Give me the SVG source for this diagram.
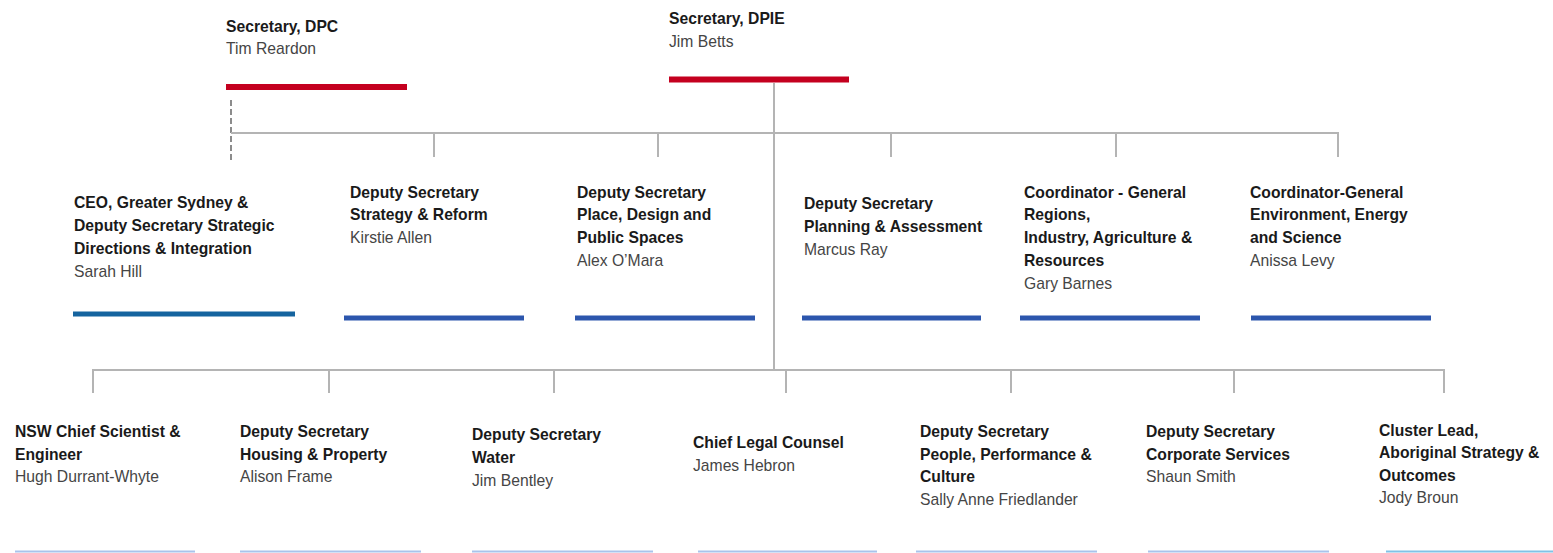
<svg xmlns="http://www.w3.org/2000/svg" width="1553" height="553" viewBox="0 0 1553 553">
<style>
text{font-family:"Liberation Sans",Arial,sans-serif;font-size:15.7px}
.t{font-weight:bold;fill:#1a1a1a}
.n{fill:#454545}
.conn{fill:none;stroke:#b4b4b4;stroke-width:2}
.dash{fill:none;stroke:#8c8c8c;stroke-width:2;stroke-dasharray:6 3}
.red{stroke:#c4001f;stroke-width:6}
.blue{stroke:#2c56ad;stroke-width:5}
.teal{stroke:#15649f;stroke-width:5}
.lb{stroke:#a9c3eb;stroke-width:2}
.lc{stroke:#80c2e6;stroke-width:2}
</style>
<rect width="1553" height="553" fill="#fff"/>
<g id="connectors">
<path class="dash" d="M231,100 V163"/>
<path class="conn" d="M231,133 H1338 V157"/>
<path class="conn" d="M434,133 V157 M658,133 V157 M891,133 V157 M1116,133 V157"/>
<path class="conn" d="M774,83 V370"/>
<path class="conn" d="M93,393 V370 H1444 V393"/>
<path class="conn" d="M329,370 V393 M554,370 V393 M786,370 V393 M1011,370 V393 M1234,370 V393"/>
</g>
<g id="sec-dpc">
<text class="t" x="226" y="32">Secretary, DPC</text>
<text class="n" x="226" y="54">Tim Reardon</text>
<line class="red" x1="226" y1="87" x2="407" y2="87"/>
</g>
<g id="sec-dpie">
<text class="t" x="669" y="24">Secretary, DPIE</text>
<text class="n" x="669" y="47">Jim Betts</text>
<line class="red" x1="669" y1="79.5" x2="849" y2="79.5"/>
</g>
<g id="ceo-sydney">
<text class="t" x="74" y="208">CEO, Greater Sydney &amp;</text>
<text class="t" x="74" y="231">Deputy Secretary Strategic</text>
<text class="t" x="74" y="254">Directions &amp; Integration</text>
<text class="n" x="74" y="277">Sarah Hill</text>
<line class="teal" x1="73" y1="314" x2="295" y2="314"/>
</g>
<g id="strategy-reform">
<text class="t" x="350" y="197.5">Deputy Secretary</text>
<text class="t" x="350" y="220">Strategy &amp; Reform</text>
<text class="n" x="350" y="243">Kirstie Allen</text>
<line class="blue" x1="344" y1="318" x2="524" y2="318"/>
</g>
<g id="place-design">
<text class="t" x="577" y="197.5">Deputy Secretary</text>
<text class="t" x="577" y="220">Place, Design and</text>
<text class="t" x="577" y="243">Public Spaces</text>
<text class="n" x="577" y="266">Alex O’Mara</text>
<line class="blue" x1="575" y1="318" x2="755" y2="318"/>
</g>
<g id="planning">
<text class="t" x="804" y="209">Deputy Secretary</text>
<text class="t" x="804" y="232">Planning &amp; Assessment</text>
<text class="n" x="804" y="254.5">Marcus Ray</text>
<line class="blue" x1="802" y1="318" x2="981" y2="318"/>
</g>
<g id="regions">
<text class="t" x="1024" y="197.5">Coordinator - General</text>
<text class="t" x="1024" y="220">Regions,</text>
<text class="t" x="1024" y="243">Industry, Agriculture &amp;</text>
<text class="t" x="1024" y="266">Resources</text>
<text class="n" x="1024" y="288.5">Gary Barnes</text>
<line class="blue" x1="1020" y1="318" x2="1200" y2="318"/>
</g>
<g id="environment">
<text class="t" x="1250" y="197.5">Coordinator-General</text>
<text class="t" x="1250" y="220">Environment, Energy</text>
<text class="t" x="1250" y="243">and Science</text>
<text class="n" x="1250" y="266">Anissa Levy</text>
<line class="blue" x1="1251" y1="318" x2="1431" y2="318"/>
</g>
<g id="chief-scientist">
<text class="t" x="15" y="437">NSW Chief Scientist &amp;</text>
<text class="t" x="15" y="459.5">Engineer</text>
<text class="n" x="15" y="482">Hugh Durrant-Whyte</text>
<line class="lb" x1="15" y1="551.5" x2="195" y2="551.5"/>
</g>
<g id="housing">
<text class="t" x="240" y="437">Deputy Secretary</text>
<text class="t" x="240" y="459.5">Housing &amp; Property</text>
<text class="n" x="240" y="482">Alison Frame</text>
<line class="lb" x1="240" y1="551.5" x2="421" y2="551.5"/>
</g>
<g id="water">
<text class="t" x="472" y="440">Deputy Secretary</text>
<text class="t" x="472" y="463">Water</text>
<text class="n" x="472" y="485.5">Jim Bentley</text>
<line class="lb" x1="472" y1="551.5" x2="653" y2="551.5"/>
</g>
<g id="legal">
<text class="t" x="693" y="448">Chief Legal Counsel</text>
<text class="n" x="693" y="471">James Hebron</text>
<line class="lb" x1="698" y1="551.5" x2="877" y2="551.5"/>
</g>
<g id="people">
<text class="t" x="920" y="437">Deputy Secretary</text>
<text class="t" x="920" y="459.5">People, Performance &amp;</text>
<text class="t" x="920" y="482">Culture</text>
<text class="n" x="920" y="504.5">Sally Anne Friedlander</text>
<line class="lb" x1="916" y1="551.5" x2="1097" y2="551.5"/>
</g>
<g id="corporate">
<text class="t" x="1146" y="437">Deputy Secretary</text>
<text class="t" x="1146" y="459.5">Corporate Services</text>
<text class="n" x="1146" y="482">Shaun Smith</text>
<line class="lb" x1="1148" y1="551.5" x2="1329" y2="551.5"/>
</g>
<g id="aboriginal">
<text class="t" x="1379" y="435.5">Cluster Lead,</text>
<text class="t" x="1379" y="458">Aboriginal Strategy &amp;</text>
<text class="t" x="1379" y="480.5">Outcomes</text>
<text class="n" x="1379" y="503">Jody Broun</text>
<line class="lc" x1="1386" y1="551.5" x2="1553" y2="551.5"/>
</g>
</svg>
